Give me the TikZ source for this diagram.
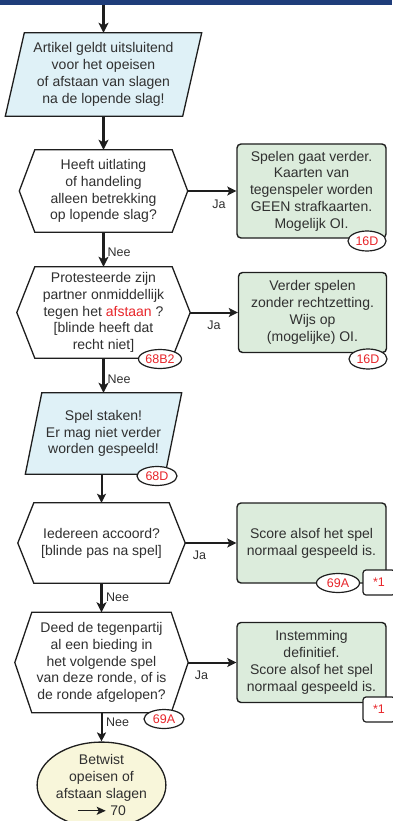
\documentclass[tikz,border=0pt]{standalone}
\usepackage{fontspec}
\setmainfont{Liberation Sans}
\usetikzlibrary{shapes.geometric,arrows.meta,backgrounds}
\definecolor{navy}{HTML}{1F3D7A}
\definecolor{pblue}{HTML}{DFF1F7}
\definecolor{pgreen}{HTML}{DCECDC}
\definecolor{pyellow}{HTML}{F8F6DA}
\definecolor{refred}{HTML}{E8262B}
\definecolor{ink}{HTML}{1E1E1E}
\definecolor{txt}{HTML}{303030}
\begin{document}
\begin{tikzpicture}[x=1pt,y=-1pt,
  every node/.style={text=txt, font=\fontsize{14}{16.8}\selectfont},
  txtbox/.style={rectangle, inner sep=0pt, align=center},
  outline/.style={draw=ink, line width=1.3pt, line join=miter},
  resultbox/.style={rectangle, rounded corners=4pt, draw=ink, line width=1.4pt, fill=pgreen, inner sep=0pt, align=center},
  refell/.style={ellipse, draw=ink, line width=1.2pt, fill=white, inner sep=0pt, text=refred, font=\fontsize{12.5}{14}\selectfont},
  starbox/.style={rectangle, rounded corners=3pt, draw=ink, line width=1.2pt, fill=white, minimum width=32pt, minimum height=25pt, inner sep=0pt, text=refred, font=\fontsize{12.5}{14}\selectfont},
  lbl/.style={inner sep=0pt, font=\fontsize{12.5}{14}\selectfont},
  flowthick/.style={draw=ink, line width=2.8pt, -{Stealth[length=10pt,width=10pt,inset=2.5pt]}},
  flow/.style={draw=ink, line width=2pt, -{Stealth[length=9pt,width=9pt,inset=2pt]}}
]
\useasboundingbox (0,0) rectangle (392,821);
\fill[navy] (0,0) rectangle (392,5);
\coordinate (top) at (103.5,5);

% texts / shapes
\node[txtbox, minimum width=196pt, minimum height=83pt] (p1) at (103.5,74.5)
  {Artikel geldt uitsluitend\\voor het opeisen\\of afstaan van slagen\\na de lopende slag!};
\node[txtbox, minimum width=168pt, minimum height=82pt] (h1) at (103.5,191)
  {Heeft uitlating\\of handeling\\alleen betrekking\\op lopende slag?};
\node[txtbox, minimum width=173pt, minimum height=91pt] (h2) at (103.5,312.5)
  {Protesteerde zijn\\partner onmiddellijk\\tegen het {\color{refred}afstaan} ?\\{[}blinde heeft dat\\recht niet{]}};
\node[txtbox, minimum width=156pt, minimum height=81pt] (p2) at (103.5,433.5)
  {Spel staken!\\Er mag niet verder\\worden gespeeld!};
\node[txtbox, minimum width=167pt, minimum height=80pt] (h3) at (101.5,543)
  {Iedereen accoord?\\{[}blinde pas na spel{]}};
\node[txtbox, minimum width=173pt, minimum height=100pt] (h4) at (101.5,662.5)
  {Deed de tegenpartij\\al een bieding in\\het volgende spel\\van deze ronde, of is\\de ronde afgelopen?};

\begin{scope}[on background layer]
  \draw[outline, fill=pblue] ([xshift=19pt]p1.north west) -- (p1.north east) -- ([xshift=-19pt]p1.south east) -- (p1.south west) -- cycle;
  \draw[outline, fill=white] ([xshift=15.5pt]h1.north west) -- ([xshift=-15.5pt]h1.north east) -- (h1.east) -- ([xshift=-15.5pt]h1.south east) -- ([xshift=15.5pt]h1.south west) -- (h1.west) -- cycle;
  \draw[outline, fill=white] ([xshift=18pt]h2.north west) -- ([xshift=-18pt]h2.north east) -- (h2.east) -- ([xshift=-18pt]h2.south east) -- ([xshift=18pt]h2.south west) -- (h2.west) -- cycle;
  \draw[outline, fill=pblue] ([xshift=16.5pt]p2.north west) -- (p2.north east) -- ([xshift=-16.5pt]p2.south east) -- (p2.south west) -- cycle;
  \draw[outline, fill=white] ([xshift=16pt]h3.north west) -- ([xshift=-16pt]h3.north east) -- (h3.east) -- ([xshift=-16pt]h3.south east) -- ([xshift=16pt]h3.south west) -- (h3.west) -- cycle;
  \draw[outline, fill=white] ([xshift=17pt]h4.north west) -- ([xshift=-17pt]h4.north east) -- (h4.east) -- ([xshift=-17pt]h4.south east) -- ([xshift=17pt]h4.south west) -- (h4.west) -- cycle;
\end{scope}

% result boxes
\node[resultbox, minimum width=149pt, minimum height=94pt] (g1) at (311.5,191)
  {Spelen gaat verder.\\Kaarten van\\tegenspeler worden\\GEEN strafkaarten.\\Mogelijk OI.};
\node[resultbox, minimum width=148pt, minimum height=80pt] (g2) at (312.5,312.5)
  {Verder spelen\\zonder rechtzetting.\\Wijs op\\(mogelijke) OI.};
\node[resultbox, minimum width=149pt, minimum height=80pt] (g3) at (311.5,543)
  {Score alsof het spel\\normaal gespeeld is.};
\node[resultbox, minimum width=149pt, minimum height=80pt] (g4) at (311.5,662.5)
  {Instemming\\definitief.\\Score alsof het spel\\normaal gespeeld is.};

\node[ellipse, draw=ink, line width=1.3pt, fill=pyellow, inner sep=0pt, align=center,
      minimum width=114pt, minimum height=84pt] (E) at (101.5,785)
  {Betwist\\opeisen of\\afstaan slagen\\\tikz[baseline=-0.6ex]\draw[draw=ink, line width=1.3pt, -{Stealth[length=9pt,width=8pt,inset=2pt]}] (0pt,0pt) -- (28pt,0pt);\ 70};

% references
\node[refell, minimum width=38pt, minimum height=20pt] (r1) at (367,241) {16D};
\node[refell, minimum width=43pt, minimum height=19pt] (r2) at (160,359) {68B2};
\node[refell, minimum width=38pt, minimum height=20pt] (r3) at (368,359) {16D};
\node[refell, minimum width=40pt, minimum height=19pt] (r4) at (157,476) {68D};
\node[refell, minimum width=43pt, minimum height=19pt] (r5) at (338,583) {69A};
\node[refell, minimum width=40pt, minimum height=19pt] (r6) at (164,719) {69A};
\node[starbox] (s1) at (379,582.5) {*1};
\node[starbox] (s2) at (379,709.5) {*1};

% connectors
\draw[flowthick] (top) -- (top |- p1.north);
\draw[flowthick] (p1.south) -- (h1.north);
\draw[flowthick] (h1.south) -- (h2.north);
\draw[flowthick] (h2.south) -- (p2.north);
\draw[flow] (p2.south -| h3.north) -- (h3.north);
\draw[flowthick] (h3.south) -- (h4.north);
\draw[flow] (h4.south) -- (E.north);
\draw[flow] (h1.east) -- (g1.west);
\draw[flow] (h2.east) -- (g2.west);
\draw[flow] (h3.east) -- (g3.west);
\draw[flow] (h4.east) -- (g4.west);

% labels
\node[lbl] (n1) at (119,252) {Nee};
\node[lbl] (n2) at (119,379) {Nee};
\node[lbl] (n3) at (117.5,597) {Nee};
\node[lbl] (n4) at (117.5,722) {Nee};
\node[lbl] (j1) at (219,204) {Ja};
\node[lbl] (j2) at (214,325) {Ja};
\node[lbl] (j3) at (199.5,555) {Ja};
\node[lbl] (j4) at (201.5,675) {Ja};
\end{tikzpicture}
\end{document}
